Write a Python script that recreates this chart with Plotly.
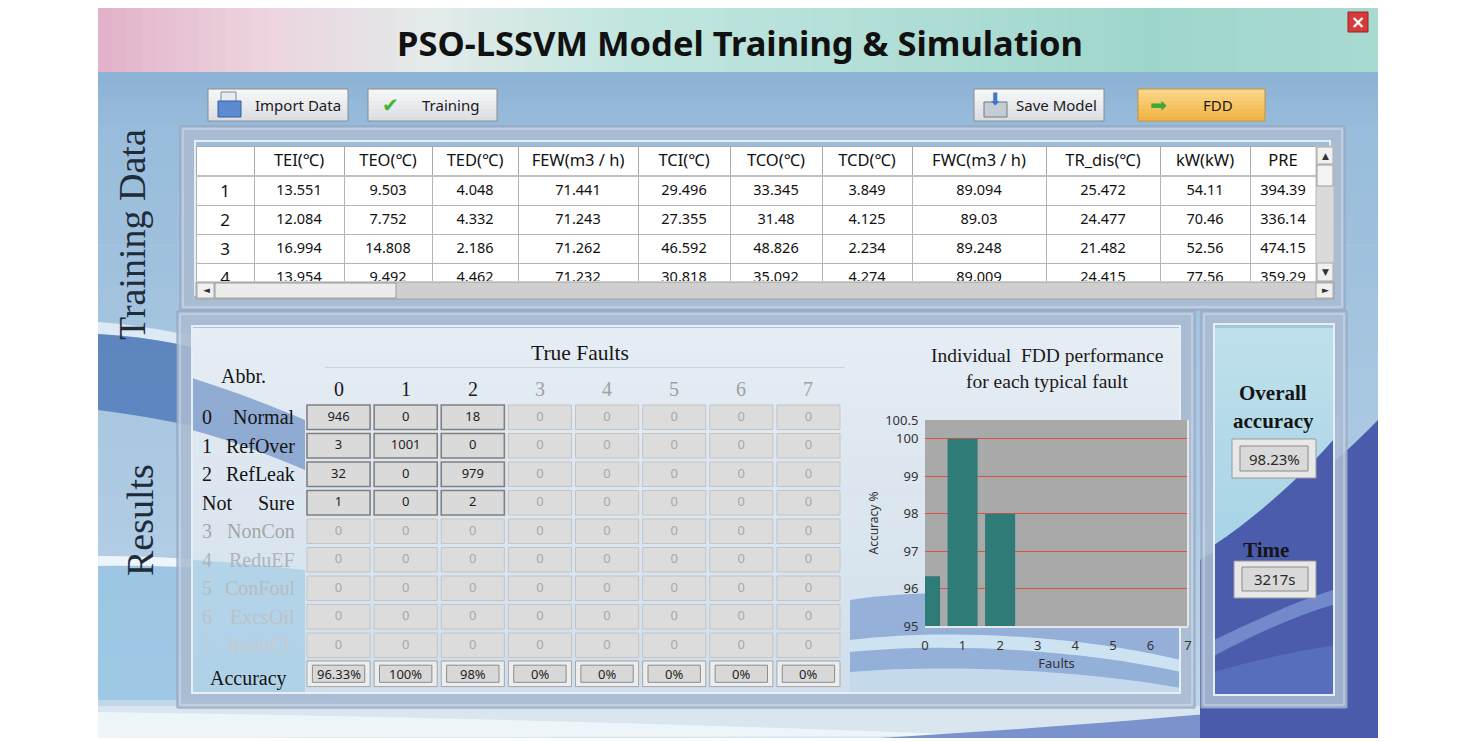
import plotly.graph_objects as go

W, H = 1476, 742
OFF = 8  # the page body margin shifts the figure by 8 px
SANS = "Noto Sans"
SERIF = "Liberation Serif"

# ---------------- data ----------------
table_columns = ["", "TEI(℃)", "TEO(℃)", "TED(℃)", "FEW(m3 / h)", "TCI(℃)", "TCO(℃)",
                 "TCD(℃)", "FWC(m3 / h)", "TR_dis(℃)", "kW(kW)", "PRE"]
sample_no = ["1", "2", "3", "4"]
tei = ["13.551", "12.084", "16.994", "13.954"]
teo = ["9.503", "7.752", "14.808", "9.492"]
ted = ["4.048", "4.332", "2.186", "4.462"]
few = ["71.441", "71.243", "71.262", "71.232"]
tci = ["29.496", "27.355", "46.592", "30.818"]
tco = ["33.345", "31.48", "48.826", "35.092"]
tcd = ["3.849", "4.125", "2.234", "4.274"]
fwc = ["89.094", "89.03", "89.248", "89.009"]
tr_dis = ["25.472", "24.477", "21.482", "24.415"]
kw = ["54.11", "70.46", "52.56", "77.56"]
pre = ["394.39", "336.14", "474.15", "359.29"]

fault_ids = [0, 1, 2, 3, 4, 5, 6, 7]
row_code = ["0", "1", "2", "Not", "3", "4", "5", "6", "7"]
row_name = ["Normal", "RefOver", "RefLeak", "Sure", "NonCon", "ReduEF", "ConFoul", "ExcsOil", "ReduCF"]
confusion = [
    [946, 0, 18, 0, 0, 0, 0, 0],
    [3, 1001, 0, 0, 0, 0, 0, 0],
    [32, 0, 979, 0, 0, 0, 0, 0],
    [1, 0, 2, 0, 0, 0, 0, 0],
    [0, 0, 0, 0, 0, 0, 0, 0],
    [0, 0, 0, 0, 0, 0, 0, 0],
    [0, 0, 0, 0, 0, 0, 0, 0],
    [0, 0, 0, 0, 0, 0, 0, 0],
    [0, 0, 0, 0, 0, 0, 0, 0],
]
fault_accuracy = [96.33, 100, 98, 0, 0, 0, 0, 0]
n_active_faults = 3
n_active_rows = 4
overall_accuracy = "98.23%"
train_time = "3217s"

# ---------------- helpers ----------------
def X(p):
    return (p - OFF) / W


def Y(p):
    return 1 - (p - OFF) / H


shapes, annotations = [], []


def box(x0, y0, x1, y1, fill="rgba(0,0,0,0)", line="rgba(0,0,0,0)", lw=0, layer="below"):
    shapes.append(dict(type="rect", xref="paper", yref="paper", x0=X(x0), x1=X(x1),
                       y0=Y(y1), y1=Y(y0), fillcolor=fill,
                       line=dict(color=line, width=lw), layer=layer))


def blob(d, fill, layer="below"):
    out, nums = [], []
    for t in d.split():
        if t.isalpha():
            out.append(t)
        else:
            nums.append(float(t))
            if len(nums) == 2:
                out.append(f"{X(nums[0]):.5f},{Y(nums[1]):.5f}")
                nums = []
    shapes.append(dict(type="path", xref="paper", yref="paper", path=" ".join(out),
                       fillcolor=fill, line=dict(width=0), layer=layer))


def text(x, y, s, size=14, color="#111", family=SANS, angle=0, xanchor="center"):
    annotations.append(dict(x=X(x), y=Y(y), xref="paper", yref="paper", text=s,
                            showarrow=False, textangle=angle, xanchor=xanchor,
                            yanchor="middle", font=dict(size=size, color=color, family=family)))


def hexrgb(h):
    h = h.lstrip("#")
    return [int(h[i:i + 2], 16) for i in (0, 2, 4)]


def lerp(stops, v):
    if v <= stops[0][0]:
        return stops[0][1]
    for (p0, c0), (p1, c1) in zip(stops, stops[1:]):
        if v <= p1:
            t = (v - p0) / (p1 - p0)
            a, b = hexrgb(c0), hexrgb(c1)
            return "rgb(%d,%d,%d)" % tuple(round(a[i] + (b[i] - a[i]) * t) for i in range(3))
    return stops[-1][1]


def vgrad(x0, y0, x1, y1, stops, n=30):
    step = (y1 - y0) / n
    for i in range(n):
        ya = y0 + i * step
        box(x0, ya, x1, min(ya + step + 0.7, y1), lerp(stops, ya + step / 2))


def hgrad(x0, y0, x1, y1, stops, n=60):
    step = (x1 - x0) / n
    for i in range(n):
        xa = x0 + i * step
        box(xa, y0, min(xa + step + 0.7, x1), y1, lerp(stops, xa + step / 2))


def frame(x0, y0, x1, y1, w):
    box(x0 + w / 2, y0 + w / 2, x1 - w / 2, y1 - w / 2, line="rgba(170,187,210,0.88)", lw=w)
    box(x0, y0, x1, y1, line="#8ea2be", lw=1)
    box(x0 + w, y0 + w, x1 - w, y1 - w, line="#e8eef6", lw=2)
    box(x0 + 3, y0 + 3, x1 - 3, y1 - 3, line="rgba(230,238,246,0.7)", lw=1)


def button(x0, y0, x1, y1, fill_top="#f8f8f8", fill_bot="#d9dde2", edge="#8c8c8c"):
    vgrad(x0, y0, x1, y1, [(y0, fill_top), (y1, fill_bot)], n=8)
    box(x0, y0, x1, y1, line=edge, lw=1)


# ---------------- background ----------------
hgrad(98, 4, 1378, 72, [(98, "#e2b2c9"), (260, "#edd3e0"), (430, "#e3ebeb"),
                         (620, "#c2e6e0"), (900, "#b0ded6"), (1150, "#9fd6cc"), (1378, "#a8dad2")], n=90)
vgrad(98, 72, 1378, 738, [(72, "#8cb2d5"), (130, "#98bcdb"), (330, "#a4c4df"),
                           (560, "#b2cde5"), (738, "#c4d9ea")], n=50)
# waves on the left
blob("M 98 322 C 180 328 260 350 335 385 L 335 398 C 260 362 180 338 98 334 Z", "rgba(235,243,250,0.8)")
blob("M 98 334 C 180 338 260 362 335 398 L 335 470 C 260 440 180 420 98 410 Z", "rgba(70,112,180,0.75)")
blob("M 98 560 C 180 560 260 568 335 580 L 335 700 L 98 700 Z", "rgba(150,196,226,0.8)")
blob("M 98 556 C 180 556 260 563 335 574 L 335 582 C 260 571 180 564 98 566 Z", "rgba(245,250,252,0.9)")
# bottom strip
box(98, 706, 1378, 738, "#d9e5ef")
blob("M 98 712 C 400 716 700 724 1000 736 L 98 738 Z", "rgba(240,246,250,0.9)")
blob("M 880 738 C 1080 726 1250 712 1378 696 L 1378 738 Z", "#7a93cc")
# navy region on right
blob("M 1200 560 C 1260 525 1330 470 1378 420 L 1378 738 L 1200 738 Z", "#4a5bab")

# ---------------- panel interiors ----------------
vgrad(192, 328, 1181, 695, [(328, "#e6edf4"), (470, "#dde7f0"), (600, "#d6e3ee"), (695, "#cfdeec")], n=40)
vgrad(1214, 328, 1333, 697, [(328, "#bfe0ec"), (540, "#a8d4e6"), (697, "#9cc9e0")], n=30)
# waves inside results panel
blob("M 192 378 C 230 390 270 405 305 420 L 305 470 C 270 455 230 440 192 430 Z", "rgba(78,120,186,0.55)")
blob("M 192 560 C 230 562 270 566 305 570 L 305 694 L 192 694 Z", "rgba(150,198,228,0.55)")
blob("M 850 600 C 950 585 1080 595 1181 625 L 1181 695 L 850 695 Z", "rgba(96,136,200,0.55)")
blob("M 850 640 C 950 628 1080 636 1181 660 L 1181 672 C 1080 650 950 642 850 652 Z", "rgba(220,240,246,0.8)")
blob("M 850 672 C 950 664 1080 670 1181 688 L 1181 695 L 850 695 Z", "rgba(210,228,242,0.8)")
# navy region inside right panel
blob("M 1214 545 C 1255 518 1300 478 1333 440 L 1333 697 L 1214 697 Z", "#4b5cac")
blob("M 1214 640 C 1255 620 1300 600 1333 590 L 1333 605 C 1300 614 1255 634 1214 656 Z", "rgba(140,168,224,0.6)")
blob("M 1214 672 C 1255 660 1300 650 1333 646 L 1333 697 L 1214 697 Z", "rgba(92,118,196,0.7)")

# ---------------- frames ----------------
frame(180, 126, 1345, 310, 15)
frame(177, 311, 1195, 708, 15)
frame(1201, 311, 1347, 708, 13)

# ---------------- header ----------------
text(740, 42, "<b>PSO-LSSVM Model Training &amp; Simulation</b>", size=34.5, color="#111")
box(1348, 12, 1368, 32, "#d63b3b", "#9c2020", 1)
text(1358, 22, "<b>×</b>", size=17, color="white", family="DejaVu Sans")

button(208, 89, 348, 121)
box(221, 92, 236, 106, "#e8ecf0", "#7f8a96", 1)
box(218, 101, 241, 117, "#5b8ad0", "#36609e", 1)
text(298, 105, "Import Data", size=15, color="#1a1a1a")
button(368, 89, 497, 121)
text(390, 105, "✔", size=20, color="#43b23c", family="DejaVu Sans")
text(450, 105, "Training", size=15, color="#1a1a1a")
button(974, 89, 1104, 121)
box(984, 102, 1007, 117, "#c6ccd3", "#6f7a86", 1)
text(995, 99, "⬇", size=17, color="#3f78c6", family="DejaVu Sans")
text(1056, 105, "Save Model", size=15, color="#1a1a1a")
button(1138, 89, 1265, 121, fill_top="#fbd98c", fill_bot="#f0b040", edge="#c99236")
text(1158, 105, "➡", size=20, color="#3ea63a", family="DejaVu Sans")
text(1218, 105, "FDD", size=15, color="#1a1a1a")

# side titles
text(132, 235, "Training Data", size=38, color="#1f2c3a", family=SERIF, angle=-90)
text(140, 520, "Results", size=38, color="#1f2c3a", family=SERIF, angle=-90)

# ---------------- training data table ----------------
box(196, 146, 1316, 282, "white")
table_values = [sample_no, tei, teo, ted, few, tci, tco, tcd, fwc, tr_dis, kw, pre]
col_px = [58, 90, 88, 86, 120, 92, 92, 90, 134, 114, 90, 66]
table = go.Table(
    domain=dict(x=[X(196), X(1316)], y=[Y(282), Y(146)]),
    columnwidth=col_px,
    header=dict(values=table_columns, height=30, fill_color="white",
                line=dict(color="#a9a9a9", width=1), align="center",
                font=dict(family=SANS, size=16.5, color="#111")),
    cells=dict(values=table_values, height=29, fill_color="white",
               line=dict(color="#b4b4b4", width=1), align="center",
               font=dict(family=SANS, size=[17] + [14.5] * 11, color="#111")),
)
box(196, 175, 1316, 177, "#c0c0c0", layer="above")
# scrollbars
box(1316, 146, 1334, 282, "#dadada", "#b8b8b8", 1, layer="above")
box(1317, 147, 1333, 164, "#f0f0f0", "#a8a8a8", 1, layer="above")
box(1317, 165, 1333, 186, "#f3f3f3", "#9c9c9c", 1, layer="above")
box(1317, 263, 1333, 281, "#f0f0f0", "#a8a8a8", 1, layer="above")
box(196, 282, 1334, 299, "#cfcfcf", "#a0a0a0", 1, layer="above")
box(197, 283, 214, 298, "#f0f0f0", "#a8a8a8", 1, layer="above")
box(215, 283, 396, 298, "#ececec", "#9c9c9c", 1, layer="above")
box(1316, 283, 1333, 298, "#f0f0f0", "#a8a8a8", 1, layer="above")
for x, y, g in [(1325, 156, "▲"), (1325, 272, "▼"), (206, 290, "◄"), (1325, 290, "►")]:
    text(x, y, g, size=9, color="#333", family="DejaVu Sans")

# ---------------- confusion matrix ----------------
n_rows = len(row_name)
acc_row = n_rows
z, cell_x, cell_y, cell_txt, cell_col = [], [], [], [], []
for i in range(n_rows):
    zr = []
    for j, f in enumerate(fault_ids):
        on = i < n_active_rows and j < n_active_faults
        zr.append(1 if on else 0)
        cell_x.append(f)
        cell_y.append(i)
        cell_txt.append(str(confusion[i][j]))
        cell_col.append("#1e1e1e" if on else "#a9a9a9")
    z.append(zr)
z.append([2] * len(fault_ids))

heat = go.Heatmap(
    x=fault_ids, y=list(range(n_rows + 1)), z=z, xaxis="x2", yaxis="y2",
    zmin=0, zmax=2, showscale=False, xgap=4, ygap=4, hoverinfo="skip",
    colorscale=[[0, "#dcdcdc"], [0.33, "#dcdcdc"], [0.34, "#dadada"], [0.66, "#dadada"],
                [0.67, "#ededed"], [1, "#ededed"]],
)
cell_text = go.Scatter(
    x=cell_x, y=cell_y, mode="text", text=cell_txt, xaxis="x2", yaxis="y2",
    textfont=dict(family=SANS, size=13, color=cell_col), hoverinfo="skip", showlegend=False,
)

for i in range(n_rows):
    for j, f in enumerate(fault_ids):
        on = i < n_active_rows and j < n_active_faults
        shapes.append(dict(type="rect", xref="x2", yref="y2", x0=f - 0.47, x1=f + 0.47,
                           y0=i - 0.43, y1=i + 0.43, layer="above",
                           line=dict(color="#808080" if on else "#c4c4c4", width=1.6 if on else 1)))
for j, f in enumerate(fault_ids):
    shapes.append(dict(type="rect", xref="x2", yref="y2", x0=f - 0.47, x1=f + 0.47,
                       y0=acc_row - 0.45, y1=acc_row + 0.45, layer="above",
                       line=dict(color="#a8a8a8", width=1)))
    shapes.append(dict(type="rect", xref="x2", yref="y2", x0=f - 0.39, x1=f + 0.39,
                       y0=acc_row - 0.3, y1=acc_row + 0.3, layer="above", fillcolor="#d8d8d8",
                       line=dict(color="#8c8c8c", width=1)))
    annotations.append(dict(x=f, y=acc_row, xref="x2", yref="y2", showarrow=False,
                            text=f"{fault_accuracy[j]:g}%", xanchor="center",
                            font=dict(family=SANS, size=13, color="#1e1e1e")))
    annotations.append(dict(x=f, y=Y(389), xref="x2", yref="paper", showarrow=False,
                            text=str(f), xanchor="center", yanchor="middle",
                            font=dict(family=SERIF, size=20,
                                      color="#1a1a1a" if j < n_active_faults else "#a0a0a0")))

row_colors = ["#151515"] * n_active_rows + ["#a6a6a6", "#aeb4ba", "#b6bcc2", "#bcc2c8", "#c6ccd2"]
for i in range(n_rows):
    annotations.append(dict(x=X(200), y=i, xref="paper", yref="y2", showarrow=False,
                            text=row_code[i], xanchor="left", yanchor="middle",
                            font=dict(family=SERIF, size=20, color=row_colors[i])))
    annotations.append(dict(x=X(297), y=i, xref="paper", yref="y2", showarrow=False,
                            text=row_name[i], xanchor="right", yanchor="middle",
                            font=dict(family=SERIF, size=20, color=row_colors[i])))
annotations.append(dict(x=X(248), y=acc_row + 0.15, xref="paper", yref="y2", showarrow=False,
                        text="Accuracy", xanchor="center", yanchor="middle",
                        font=dict(family=SERIF, size=20, color="#151515")))
text(243, 376, "Abbr.", size=20, color="#151515", family=SERIF)
text(580, 353, "True Faults", size=21.5, color="#151515", family=SERIF)
box(325, 367, 845, 368, "rgba(196,208,222,0.9)")

# ---------------- bar chart ----------------
box(925, 420, 1188, 626, "#a9a9a9")
bars = go.Bar(x=fault_ids, y=fault_accuracy, width=0.8, marker=dict(color="#2f7b77", line=dict(width=0)),
              xaxis="x3", yaxis="y3", hoverinfo="skip", showlegend=False)
box(1187, 420, 1189, 626, "#e6e6e6", layer="above")
text(1047, 356, "Individual  FDD performance", size=19.5, color="#1a1a1a", family=SERIF)
text(1047, 381, "for each typical fault", size=19.5, color="#1a1a1a", family=SERIF)
# invisible trace carrying the 100.5 tick of the overlay axis
extra_top = go.Scatter(x=[None], y=[None], xaxis="x3", yaxis="y4", showlegend=False)

text(1273, 393, "<b>Overall</b>", size=21, color="#151515", family=SERIF)
text(1273, 421, "<b>accuracy</b>", size=21, color="#151515", family=SERIF)
box(1232, 439, 1316, 478, "#e8e8e8", "#9a9a9a", 1)
box(1240, 446, 1308, 471, "#d9d9d9", "#8a8a8a", 1)
text(1274, 459, overall_accuracy, size=15, color="#2a2a2a")
text(1266, 550, "<b>Time</b>", size=21, color="#151515", family=SERIF)
box(1234, 561, 1316, 598, "#e8e8e8", "#9a9a9a", 1)
box(1242, 567, 1308, 591, "#d9d9d9", "#8a8a8a", 1)
text(1275, 579, train_time, size=15, color="#2a2a2a")

tick_font = dict(family=SANS, size=13, color="#333")
fig = go.Figure([table, heat, cell_text, bars, extra_top])
fig.update_layout(
    width=W, height=H, autosize=False, margin=dict(l=0, r=0, t=0, b=0, autoexpand=False),
    paper_bgcolor="white", plot_bgcolor="rgba(0,0,0,0)", showlegend=False,
    shapes=shapes, annotations=annotations,
    xaxis=dict(visible=False, automargin=False),
    yaxis=dict(visible=False, automargin=False),
    xaxis2=dict(domain=[X(305), X(842)], range=[-0.5, 7.5], visible=False, anchor="y2",
                automargin=False, fixedrange=True),
    yaxis2=dict(domain=[Y(688), Y(403)], range=[n_rows + 0.5, -0.5], visible=False, anchor="x2",
                automargin=False, fixedrange=True),
    xaxis3=dict(domain=[X(925), X(1188)], range=[0, 7], tickvals=fault_ids, showgrid=False,
                anchor="y3", automargin=False,
                zeroline=False, showline=True, linecolor="#e6e6e6", linewidth=2,
                ticks="outside", ticklen=6, tickcolor="rgba(0,0,0,0)", tickfont=tick_font,
                title=dict(text="Faults", standoff=2, font=dict(family=SANS, size=13, color="#333"))),
    yaxis3=dict(domain=[Y(626), Y(420)], range=[95, 100.5], tickvals=[95, 96, 97, 98, 99, 100],
                anchor="x3", automargin=False,
                showgrid=True, gridcolor="#d9533f", gridwidth=1, zeroline=False,
                ticks="outside", ticklen=3, tickcolor="rgba(0,0,0,0)", tickfont=tick_font,
                title=dict(text="Accuracy %", standoff=14, font=dict(family=SANS, size=12, color="#333"))),
    yaxis4=dict(overlaying="y3", anchor="x3", side="left", range=[95, 100.5], tickvals=[100.5],
                showgrid=False, automargin=False, zeroline=False,
                ticks="outside", ticklen=3, tickcolor="rgba(0,0,0,0)", tickfont=tick_font),
)

fig.write_html("out.html")
